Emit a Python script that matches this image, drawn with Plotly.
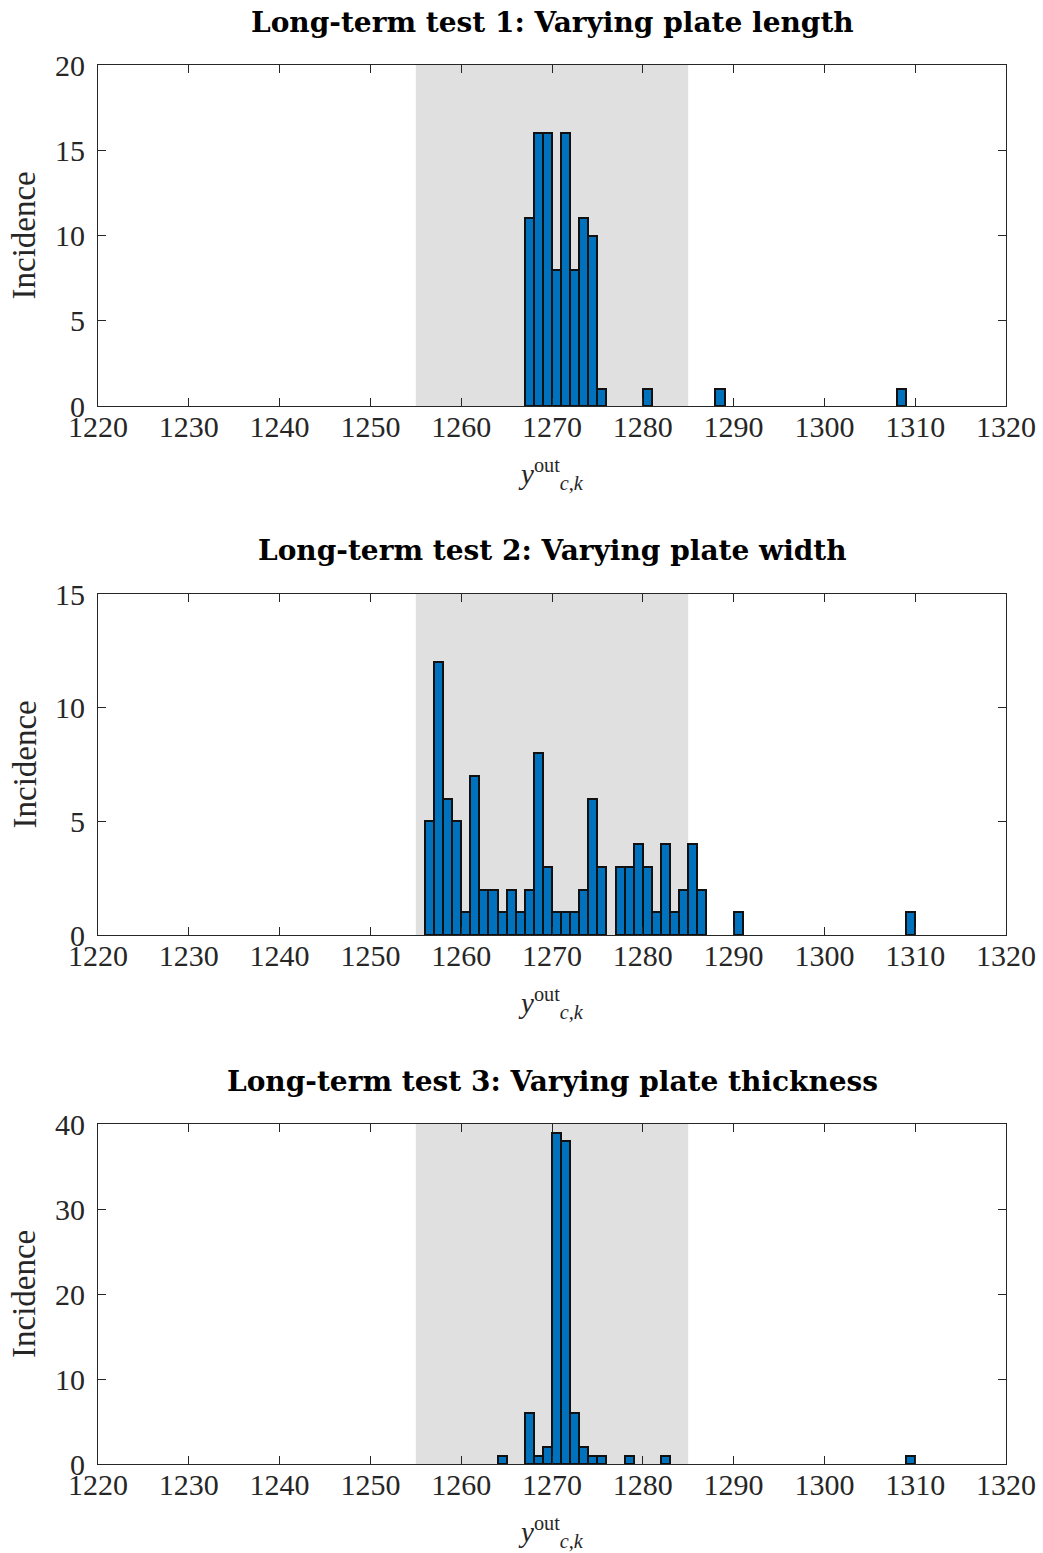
import plotly.graph_objects as go

# ---- data (bin left edges, bin width 1) ----
titles = ["Long-term test 1: Varying plate length",
          "Long-term test 2: Varying plate width",
          "Long-term test 3: Varying plate thickness"]

bins1 = [1267, 1268, 1269, 1270, 1271, 1272, 1273, 1274, 1275, 1280, 1288, 1308]
counts1 = [11, 16, 16, 8, 16, 8, 11, 10, 1, 1, 1, 1]

bins2 = [1256, 1257, 1258, 1259, 1260, 1261, 1262, 1263, 1264, 1265, 1266, 1267,
         1268, 1269, 1270, 1271, 1272, 1273, 1274, 1275, 1277, 1278, 1279, 1280,
         1281, 1282, 1283, 1284, 1285, 1286, 1290, 1309]
counts2 = [5, 12, 6, 5, 1, 7, 2, 2, 1, 2, 1, 2,
           8, 3, 1, 1, 1, 2, 6, 3, 3, 3, 4, 3,
           1, 4, 1, 2, 4, 2, 1, 1]

bins3 = [1264, 1267, 1268, 1269, 1270, 1271, 1272, 1273, 1274, 1275, 1278, 1282, 1309]
counts3 = [1, 6, 1, 2, 39, 38, 6, 2, 1, 1, 1, 1, 1]

bin_width = 1
band = [1255, 1285]
x_range = [1220, 1320]
x_ticks = list(range(1220, 1321, 10))
y_ranges = [[0, 20], [0, 15], [0, 40]]
y_ticks = [[0, 5, 10, 15, 20], [0, 5, 10, 15], [0, 10, 20, 30, 40]]

# ---- layout geometry (pixels) ----
W, H = 1043, 1553
x0, x1 = 98, 1006
panels = [(65, 406), (594, 935), (1124, 1464)]

BAR = "#0072BD"
AX = "#262626"
FONT = "Liberation Serif"
TFONT = "DejaVu Serif"

fig = go.Figure()
series = [(bins1, counts1), (bins2, counts2), (bins3, counts3)]
annotations = []
shapes = []
xlabel = "<i>y</i><sup>out</sup><sub><i>c,k</i></sub>"
for i, ((b, c), (top, bot)) in enumerate(zip(series, panels)):
    n = i + 1
    xa = "x" if n == 1 else f"x{n}"
    ya = "y" if n == 1 else f"y{n}"
    fig.add_trace(go.Bar(
        x=[v + bin_width / 2 for v in b], y=c, width=bin_width,
        marker=dict(color=BAR, line=dict(color="#111111", width=2)),
        xaxis=xa, yaxis=ya, showlegend=False))
    dom_y = [1 - bot / H, 1 - top / H]
    axis_common = dict(showline=True, linecolor=AX, linewidth=1, mirror="ticks",
                       ticks="inside", ticklen=8, tickcolor=AX, tickwidth=1,
                       showgrid=False, zeroline=False, automargin=False,
                       tickfont=dict(family=FONT, size=30, color=AX))
    fig.update_layout(**{
        ("xaxis" if n == 1 else f"xaxis{n}"): dict(
            domain=[x0 / W, x1 / W], range=x_range, tickvals=x_ticks,
            anchor=ya, ticklabelstandoff=-6, **axis_common),
        ("yaxis" if n == 1 else f"yaxis{n}"): dict(
            domain=dom_y, range=y_ranges[i], tickvals=y_ticks[i],
            anchor=xa, ticklabelstandoff=6, **axis_common),
    })
    shapes.append(dict(type="rect", xref=xa, yref=f"{ya} domain",
                       x0=band[0], x1=band[1], y0=0, y1=1,
                       fillcolor="#E0E0E0", line=dict(width=0), layer="below"))
    annotations.append(dict(text=f"<b>{titles[i]}</b>", xref="paper", yref="paper",
                            x=(x0 + x1) / 2 / W, y=1 - (top - 43) / H,
                            showarrow=False, xanchor="center", yanchor="middle",
                            font=dict(family=TFONT, size=28, color="black")))
    annotations.append(dict(text="Incidence", xref="paper", yref="paper",
                            x=24 / W, y=1 - (top + bot) / 2 / H, textangle=-90,
                            showarrow=False, xanchor="center", yanchor="middle",
                            font=dict(family=FONT, size=33, color=AX)))
    annotations.append(dict(text=xlabel,
                            xref="paper", yref="paper",
                            x=551 / W, y=1 - (bot + 68) / H,
                            showarrow=False, xanchor="center", yanchor="middle",
                            font=dict(family=FONT, size=29, color=AX)))

fig.update_layout(width=W, height=H, margin=dict(l=0, r=0, t=0, b=0),
                  paper_bgcolor="white", plot_bgcolor="white", bargap=0,
                  shapes=shapes, annotations=annotations)
fig.write_html("out.html")
